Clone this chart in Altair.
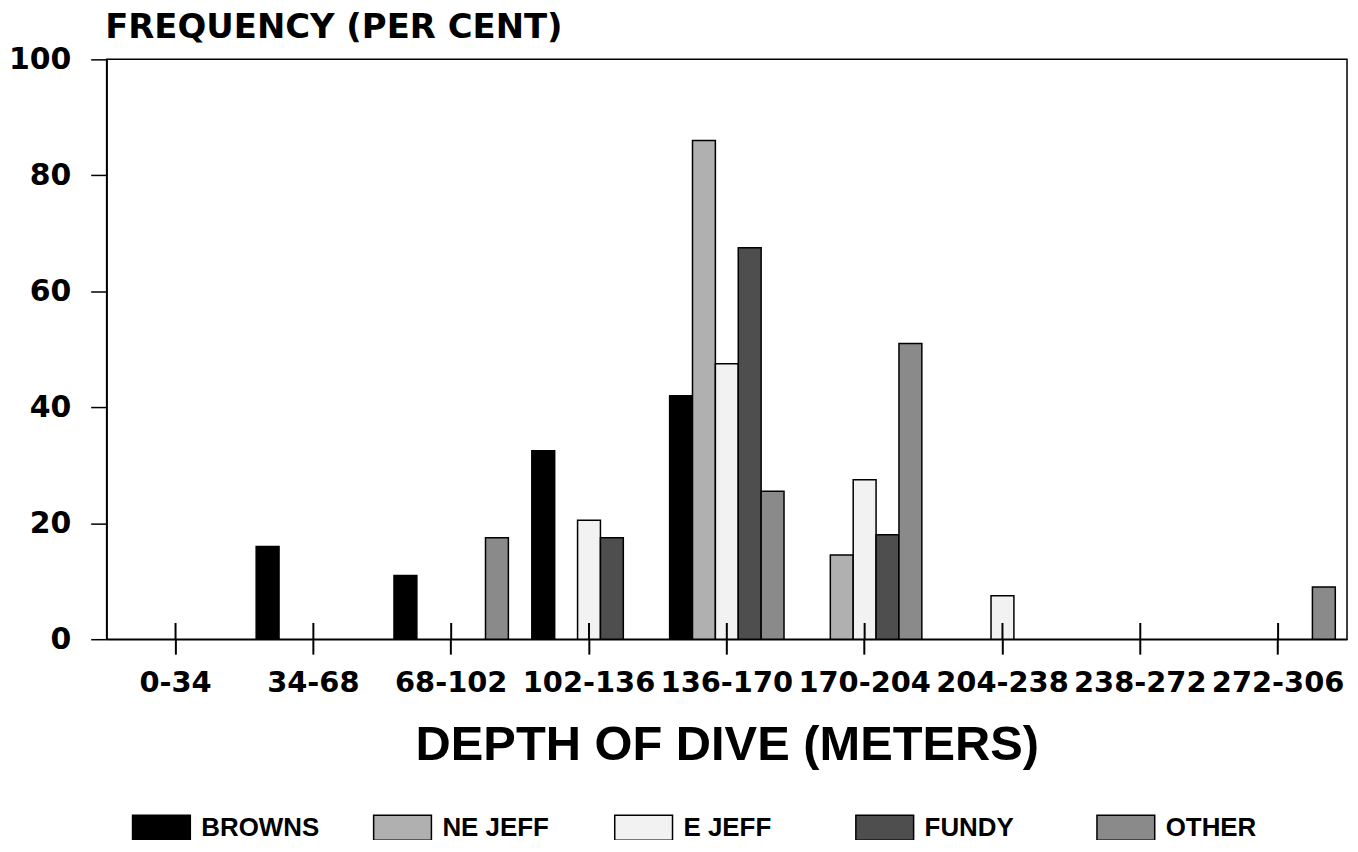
import altair as alt
import pandas as pd

categories = ["0-34", "34-68", "68-102", "102-136", "136-170",
              "170-204", "204-238", "238-272", "272-306"]
series_names = ["BROWNS", "NE JEFF", "E JEFF", "FUNDY", "OTHER"]
browns = [0, 16, 11, 32.5, 42, 0, 0, 0, 0]
ne_jeff = [0, 0, 0, 0, 86, 14.5, 0, 0, 0]
e_jeff = [0, 0, 0, 20.5, 47.5, 27.5, 7.5, 0, 0]
fundy = [0, 0, 0, 17.5, 67.5, 18, 0, 0, 0]
other = [0, 0, 17.5, 0, 25.5, 51, 0, 0, 9]
y_ticks = [0, 20, 40, 60, 80, 100]
fill_greys = ["#000000", "#b0b0b0", "#f2f2f2", "#4e4e4e", "#8a8a8a"]

rows = []
for name, vals in zip(series_names, [browns, ne_jeff, e_jeff, fundy, other]):
    for c, v in zip(categories, vals):
        if v > 0:
            rows.append({"cat": c, "series": name, "value": v})
df = pd.DataFrame(rows)
cat_df = pd.DataFrame({"cat": categories})

LAB = "DejaVu Sans"
HEL = "Liberation Sans"

x_enc = alt.X(
    "cat:N", sort=categories,
    scale=alt.Scale(domain=categories, paddingInner=0.17, paddingOuter=0.085),
    axis=alt.Axis(
        title="DEPTH OF DIVE (METERS)", labelAngle=0,
        labelFont=LAB, labelFontSize=29, labelFontWeight="bold", labelColor="black",
        labelPadding=15, tickSize=15, tickWidth=2, tickColor="black",
        domainColor="black", domainWidth=1.5,
        titleFont=HEL, titleFontSize=49, titleFontWeight="bold", titleColor="black",
        titleBaseline="alphabetic", titleY=121,
    ),
)

bars = alt.Chart(df).mark_bar(stroke="black", strokeWidth=1.5, opacity=1).encode(
    x=x_enc,
    xOffset=alt.XOffset("series:N", sort=series_names,
                        scale=alt.Scale(domain=series_names, paddingInner=0, paddingOuter=0)),
    y=alt.Y(
        "value:Q",
        scale=alt.Scale(domain=[0, 100], nice=False),
        axis=alt.Axis(
            values=y_ticks, grid=False,
            labelFont=LAB, labelFontSize=30, labelFontWeight="bold", labelColor="black",
            labelPadding=20, tickSize=16, tickWidth=1.5, tickColor="black",
            domainColor="black", domainWidth=1.5,
            title="FREQUENCY (PER CENT)", titleAngle=0, titleAlign="left",
            titleBaseline="alphabetic", titleX=-2, titleY=-22,
            titleFont=LAB, titleFontSize=34, titleFontWeight="bold", titleColor="black",
        ),
    ),
    color=alt.Color(
        "series:N", sort=series_names,
        scale=alt.Scale(domain=series_names, range=fill_greys),
        legend=alt.Legend(
            title=None, orient="none", legendX=25, legendY=741,
            direction="horizontal", columns=5, gridAlign="all",
            symbolType="M-1,-0.43L1,-0.43L1,0.43L-1,0.43Z", symbolSize=3364,
            symbolStrokeColor="black", symbolStrokeWidth=1.5, symbolOpacity=1,
            labelFont=HEL, labelFontSize=26, labelFontWeight="bold", labelColor="black",
            labelOffset=10, columnPadding=51,
        ),
    ),
)

ticks = alt.Chart(cat_df).mark_rule(color="black", strokeWidth=2).encode(
    x=alt.X("cat:N", sort=categories),
    y=alt.datum(0),
    y2=alt.datum(2.8),
)

chart = alt.layer(bars, ticks).properties(
    width=1245, height=582,
    autosize=alt.AutoSizeParams(type="none"),
    padding={"left": 99, "top": 50, "right": 3, "bottom": 200},
    background="white",
).configure_view(stroke="black", strokeWidth=1.5)

chart.save("out.html", embed_options={"renderer": "svg", "actions": False})
